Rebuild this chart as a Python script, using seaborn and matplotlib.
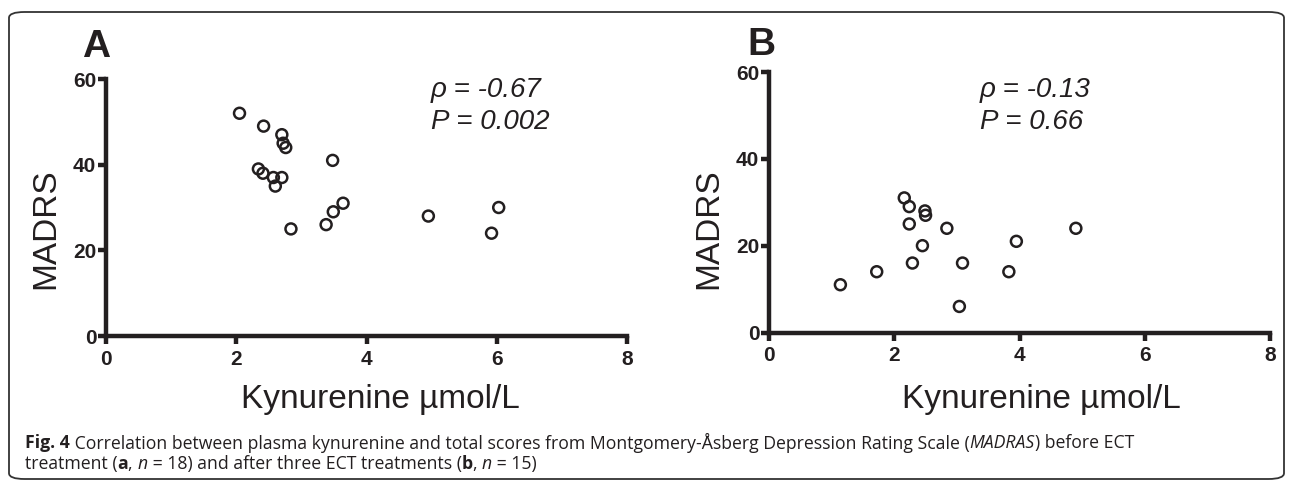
import matplotlib
matplotlib.use("Agg")
import matplotlib.pyplot as plt
import seaborn as sns
import pandas as pd
from matplotlib.patches import FancyBboxPatch

# panel A: before ECT (n = 18)
kyn_a = [2.05, 2.42, 2.70, 2.72, 2.76, 3.48, 2.34, 2.41, 2.57, 2.70,
         2.60, 3.64, 3.49, 6.03, 4.95, 3.38, 2.84, 5.92]
madrs_a = [52, 49, 47, 45, 44, 41, 39, 38, 37, 37,
           35, 31, 29, 30, 28, 26, 25, 24]

# panel B: after three ECT (n = 15)
kyn_b = [2.16, 2.24, 2.49, 2.50, 2.24, 2.84, 4.90, 3.95, 2.45, 2.29,
         3.09, 1.72, 3.83, 1.14, 3.04]
madrs_b = [31, 29, 28, 27, 25, 24, 24, 21, 20, 16,
           16, 14, 14, 11, 6]

stats_a = ["\u03c1 = -0.67", "P = 0.002"]
stats_b = ["\u03c1 = -0.13", "P = 0.66"]

xticks = [0, 2, 4, 6, 8]
yticks = [0, 20, 40, 60]

sns.set_style("ticks")
plt.rcParams['font.family'] = ['Liberation Sans', 'DejaVu Sans']

W, H = 1293, 484
fig = plt.figure(figsize=(W / 100, H / 100), dpi=100)

def px_axes(l, t, r, b):
    return fig.add_axes([l / W, 1 - b / H, (r - l) / W, (b - t) / H])

ax_a = px_axes(106, 79, 627, 336)
ax_b = px_axes(769, 72, 1270, 332.5)

tickfont = dict(family=['Liberation Sans', 'DejaVu Sans'], weight='bold', size=15)

panels = [
    (ax_a, kyn_a, madrs_a, stats_a, (0.624, 0.957, 0.833), (-0.086, 0.416), (0.526, -0.187)),
    (ax_b, kyn_b, madrs_b, stats_b, (0.421, 0.931, 0.808), (-0.09, 0.397), (0.543, -0.198)),
]

for ax, xs, ys, st, tpos, ylpos, xlpos in panels:
    df = pd.DataFrame({"kyn": xs, "madrs": ys})
    sns.scatterplot(data=df, x="kyn", y="madrs", ax=ax, s=62, marker="o",
                    facecolor="none", edgecolor="#231f20", linewidth=1.8)
    ax.set_xlim(0, 8)
    ax.set_ylim(0, 60)
    ax.set_xticks(xticks)
    ax.set_yticks(yticks)
    ax.set_xticklabels([str(v) for v in xticks], fontdict=tickfont)
    ax.set_yticklabels([str(v) for v in yticks], fontdict=tickfont)
    sns.despine(ax=ax)
    for sp in ["left", "bottom"]:
        ax.spines[sp].set_linewidth(3.2)
        ax.spines[sp].set_color("#231f20")
        ax.spines[sp].set_capstyle("projecting")
    ax.tick_params(axis="both", length=6, width=3.2, color="#231f20", labelcolor="#231f20")
    ax.tick_params(axis="x", pad=4)
    ax.tick_params(axis="y", pad=1)
    ax.set_xlabel("Kynurenine \u00b5mol/L", fontsize=24, color="#231f20")
    ax.set_ylabel("MADRS", fontsize=24, color="#231f20")
    ax.xaxis.set_label_coords(*xlpos)
    ax.yaxis.set_label_coords(*ylpos)
    ax.text(tpos[0], tpos[1], st[0], transform=ax.transAxes, fontsize=20,
            style="italic", va="center", ha="left", color="#231f20")
    ax.text(tpos[0], tpos[2], st[1], transform=ax.transAxes, fontsize=20,
            style="italic", va="center", ha="left", color="#231f20")
    for c in ax.collections:
        c.set_clip_on(False)

fig.text(96 / W, 1 - 57 / H, "A", fontsize=28, weight="bold", ha="center", va="baseline", color="#231f20")
fig.text(761 / W, 1 - 55 / H, "B", fontsize=28, weight="bold", ha="center", va="baseline", color="#231f20")

# rounded frame
frame = FancyBboxPatch((9 / W, 1 - 479 / H), (1284 - 9) / W, (479 - 12) / H,
                       boxstyle="round,pad=0,rounding_size=0.012",
                       transform=fig.transFigure, facecolor="none",
                       edgecolor="#333333", linewidth=1.3)
fig.patches.append(frame)

# caption with mixed styles
cap_family = ['Open Sans', 'DejaVu Sans']
cap_size = 12.7
renderer = fig.canvas.get_renderer()

def caption_line(x0, y, pieces):
    x = x0
    for txt, kw in pieces:
        t = fig.text(x / W, 1 - y / H, txt, fontsize=cap_size, family=cap_family,
                     va="center", ha="left", color="#231f20", **kw)
        bb = t.get_window_extent(renderer=renderer)
        x += bb.width

N = {}
B = {"weight": "bold"}
I = {"style": "italic"}
caption_line(25, 443, [
    ("Fig. 4", B),
    (" Correlation between plasma kynurenine and total scores from Montgomery-\u00c5sberg Depression Rating Scale (", N),
    ("MADRAS", I),
    (") before ECT", N),
])
caption_line(25, 464, [
    ("treatment (", N), ("a", B), (", ", N), ("n", I), (" = 18) and after three ECT treatments (", N),
    ("b", B), (", ", N), ("n", I), (" = 15)", N),
])

fig.savefig("out.png", dpi=100)
